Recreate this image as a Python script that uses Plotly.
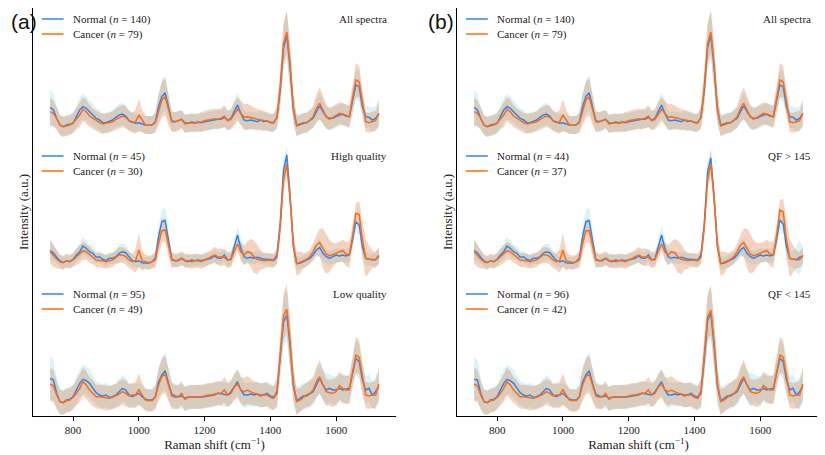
import plotly.graph_objects as go

# ---------------- data (intensity in a.u.) ----------------
wavenumber = list(range(730, 1731, 10))

all_normal = [20.7, 18, 9.7, 3, 1.3, 3, 3.7, 4.7, 11.3, 18,
              21.3, 19.7, 16.3, 13, 9.7, 8, 5.3, 5.3, 6.3, 8,
              10.7, 13, 14, 12, 7.3, 6.3, 4.7, 5.3, 4, 3,
              2.7, 3, 6.3, 21.3, 31.3, 35.3, 21.3, 7.3, 6.3, 7.3,
              8.7, 5.3, 4.7, 6, 5.3, 6, 5.3, 6.3, 7, 7.3,
              8, 8.7, 8.7, 10.7, 8, 9.7, 16.3, 23, 14.7, 8,
              7.3, 8, 7.3, 6.3, 8, 6.3, 7.3, 5.3, 5.3, 10.7,
              38, 80, 93, 60, 18, 3, 4, 5.3, 5.3, 7.3,
              9.7, 16.3, 22, 16.3, 11.3, 9.7, 9.7, 11.3, 13, 13.7,
              12, 11.3, 28, 43, 41.3, 21.3, 11.3, 10.7, 8, 9.7,
              14.7]
all_cancer = [16.3, 14.7, 9.7, 3, 1.3, 2, 3, 5.3, 9.7, 13,
              18.7, 16.3, 12, 9.7, 7.3, 5.3, 4, 4.7, 5.3, 6.3,
              8.7, 10.7, 12, 10.7, 7.3, 5.3, 6.3, 13, 7.3, 3,
              2.7, 3, 5.3, 18, 28, 31.3, 18, 6.3, 6, 7.3,
              8.7, 4, 4.7, 5.3, 4.7, 5.3, 6, 7.3, 8, 8.7,
              9.3, 8.7, 9.7, 12, 7.3, 8.7, 14, 18.7, 14.7, 10.7,
              11.3, 10.7, 9.7, 8.7, 8, 7.3, 6.3, 5.3, 5.3, 10.7,
              40, 84, 96, 64, 20, 2, 3, 4.7, 5.3, 8,
              11.3, 19.7, 24.7, 18, 11.3, 8.7, 10.7, 13, 14.7, 14,
              13, 11.3, 29.7, 48, 46.3, 24.7, 6.3, 5.3, 6.3, 7.3,
              14.7]
high_normal = [17.3, 15.3, 10.7, 7.3, 5.3, 7.3, 6.3, 8.7, 13, 16.3,
               22, 19.7, 16.3, 14.7, 10.7, 11.3, 8.7, 7.3, 9.7, 9.7,
               11.3, 14.7, 16.3, 15.3, 11.3, 7.3, 6.3, 7.3, 5.3, 5.3,
               4.7, 6.3, 9.7, 31.3, 46.3, 47.3, 28, 8.7, 7.3, 7.3,
               9.7, 7.3, 6.3, 8, 7.3, 8, 7.3, 8, 8.7, 9.7,
               12, 9.7, 9.7, 13, 8, 8.7, 21.3, 33, 19.7, 11.3,
               9.7, 10.7, 9.7, 10.7, 9.7, 8.7, 8.7, 8, 8, 13,
               45, 98, 113, 72, 22, 4.7, 4.7, 6.3, 8, 9.7,
               13, 18, 20.7, 14.7, 11.3, 9.7, 11.3, 13, 12, 13,
               12, 13, 28, 46.3, 43, 21.3, 9.7, 8.7, 8, 8.7,
               11.3]
high_cancer = [16.3, 12, 8.7, 6.3, 5.3, 7.3, 6.3, 8, 11.3, 14,
               17.3, 16.3, 13, 10.7, 8, 8, 7.3, 6.3, 7.3, 8,
               10.7, 13, 13, 11.3, 8, 6.3, 7.3, 18, 7.3, 6.3,
               5.3, 6.3, 8, 24.7, 37.3, 38, 21.3, 8, 7.3, 8,
               9.7, 7.3, 7.3, 6.3, 7.3, 7.3, 6.3, 8, 9.7, 11.3,
               13, 11.3, 10.7, 10.7, 8, 8.7, 16.3, 24, 16.3, 13,
               16.3, 15.3, 11.3, 8.7, 8, 7.3, 8, 7.3, 7.3, 10.7,
               40, 88, 104, 70, 22, 4, 5.3, 7.3, 8.7, 11.3,
               16.3, 23, 25.3, 19.7, 14, 12, 13, 14.7, 16.3, 17.3,
               14, 13, 31.3, 54.7, 54, 28, 9.7, 8.7, 8.7, 8,
               13]
low_normal = [29.7, 28, 14.7, 6.3, 5.3, 8, 8.7, 11.3, 18, 24.7,
              28.7, 27.3, 24.7, 19.7, 15.3, 13, 12, 13, 10.7, 11.3,
              13, 16.3, 19.7, 18, 13, 11.3, 13, 14.7, 11.3, 8.7,
              8, 8, 11.3, 26.3, 33, 37.3, 24.7, 14, 12, 11.3,
              12, 9.7, 10.7, 11.3, 10.7, 11.3, 10.7, 11.3, 12, 12.7,
              13, 14.7, 14, 13, 13, 16.3, 22, 26.3, 18, 13,
              13, 14, 13, 14, 12, 13, 14.7, 12, 10.7, 16.3,
              48, 86, 93, 62, 22, 7.3, 9.7, 12, 12, 14,
              16.3, 23, 29.7, 23, 18, 19.7, 18, 18, 19.7, 18,
              18.7, 19.7, 34.7, 49.7, 46.3, 28, 18, 19.7, 13, 16.3,
              22]
low_cancer = [24, 22, 13, 6.3, 5.3, 7.3, 8, 10.7, 14.7, 19.7,
              26.3, 23, 18, 14.7, 11.3, 11.3, 10.7, 9.7, 9.7, 10.7,
              12, 14, 16.3, 14.7, 12, 13, 13, 18.7, 13, 8,
              7.3, 7.3, 10.7, 23, 31.3, 34, 23, 12, 10.7, 11.3,
              14.7, 8.7, 10.7, 10.7, 11.3, 10.7, 11.3, 12, 13, 13,
              14, 14.7, 14.7, 18, 13, 14.7, 20.7, 24, 18, 16.3,
              18, 16.3, 14.7, 14, 13, 13, 13, 10.7, 9.7, 14.7,
              52, 92, 98.7, 66, 24, 6.3, 8, 10.7, 13, 14.7,
              18, 26.3, 31.3, 23, 16.3, 15.3, 14.7, 16.3, 22.3, 19.7,
              18, 18, 37.7, 53, 50.7, 29.7, 13, 12, 13, 13,
              24]
qf_high_normal = [17.3, 15.3, 10.7, 7.3, 5.3, 7.3, 6.3, 8.7, 13, 16.3,
                  22, 19.7, 16.3, 14.7, 10.7, 11.3, 8.7, 7.3, 9.7, 9.7,
                  11.3, 14.7, 16.3, 15.3, 11.3, 7.3, 6.3, 7.3, 5.3, 5.3,
                  4.7, 6.3, 9.7, 31.3, 46.3, 47.3, 28, 8.7, 7.3, 7.3,
                  9.7, 7.3, 6.3, 8, 7.3, 8, 7.3, 8, 8.7, 9.7,
                  12, 9.7, 9.7, 13, 8, 8.7, 21.3, 33, 19.7, 11.3,
                  9.7, 10.7, 9.7, 10.7, 9.7, 8.7, 8.7, 8, 8, 13,
                  44, 96, 110, 70, 22, 4.7, 4.7, 6.3, 8, 9.7,
                  13, 18, 20.7, 14.7, 11.3, 9.7, 11.3, 13, 12, 13,
                  12, 13, 28, 48, 44, 21.3, 9.7, 8.7, 8, 10.7,
                  11.3]
qf_high_cancer = [16.3, 12, 8.7, 6.3, 5.3, 7.3, 6.3, 8, 11.3, 14,
                  17.3, 16.3, 13, 10.7, 8, 8, 7.3, 6.3, 7.3, 8,
                  10.7, 13, 13, 11.3, 8, 6.3, 7.3, 18, 7.3, 6.3,
                  5.3, 6.3, 8, 24.7, 37.3, 37.3, 21.3, 8, 7.3, 8,
                  9.7, 7.3, 7.3, 6.3, 7.3, 7.3, 6.3, 8, 9.7, 11.3,
                  13, 11.3, 10.7, 10.7, 8, 8.7, 16.3, 24, 16.3, 13,
                  16.3, 15.3, 11.3, 8.7, 8, 7.3, 8, 7.3, 7.3, 10.7,
                  40, 88, 105, 70, 22, 4, 5.3, 7.3, 8.7, 11.3,
                  16.3, 23, 25.3, 19.7, 14, 12, 13, 14.7, 16.3, 17.3,
                  14, 13, 32, 58, 56, 28, 9.7, 8.7, 8.7, 8,
                  13]
qf_low_normal = [28.7, 28, 14.7, 6.3, 5.3, 8, 8.7, 11.3, 18, 24.7,
                 28.7, 27.3, 24.7, 19.7, 15.3, 13, 12, 13, 10.7, 11.3,
                 13, 16.3, 19.7, 18, 13, 11.3, 13, 14.7, 11.3, 8.7,
                 8, 8, 11.3, 26.3, 33, 37.3, 24.7, 14, 12, 11.3,
                 12, 9.7, 10.7, 11.3, 10.7, 11.3, 10.7, 11.3, 12, 12.7,
                 13, 14.7, 14, 13, 13, 16.3, 22, 26.3, 18, 13,
                 13, 14, 13, 14, 12, 13, 14.7, 12, 10.7, 16.3,
                 48, 87, 94.7, 62, 22, 7.3, 9.7, 12, 12, 14,
                 16.3, 23, 29.7, 23, 18, 19.7, 18, 18, 19.7, 18,
                 18.7, 19.7, 34.7, 49.7, 46.3, 28, 18, 19.7, 13, 16.3,
                 22]
qf_low_cancer = [24, 22, 13, 6.3, 5.3, 7.3, 8, 10.7, 14.7, 19.7,
                 26.3, 23, 18, 14.7, 11.3, 11.3, 10.7, 9.7, 9.7, 10.7,
                 12, 14, 16.3, 14.7, 12, 13, 13, 18.7, 13, 8,
                 7.3, 7.3, 10.7, 23, 31.3, 34, 23, 12, 10.7, 11.3,
                 14.7, 8.7, 10.7, 10.7, 11.3, 10.7, 11.3, 12, 13, 13,
                 14, 14.7, 14.7, 18, 13, 14.7, 20.7, 24, 18, 16.3,
                 18, 16.3, 14.7, 14, 13, 13, 13, 10.7, 9.7, 14.7,
                 52, 91, 98, 66, 24, 6.3, 8, 10.7, 13, 14.7,
                 18, 26.3, 31.3, 23, 16.3, 15.3, 14.7, 16.3, 22.3, 19.7,
                 18, 18, 37.7, 53, 50.7, 29.7, 13, 12, 13, 13,
                 24]

# standard deviations (half-width of shaded bands)
sd_all_normal = [18, 16, 12, 10, 10, 10, 10, 10, 11, 12, 13, 12, 11, 11, 10, 10, 10, 10,
                 10, 10, 10, 11, 11, 11, 10, 10, 9, 9, 9, 9, 9, 9, 10, 14, 17, 18, 15, 10,
                 9, 9, 9, 9, 9, 9, 9, 9, 9, 9, 9, 9, 9, 9, 9, 10, 9, 9, 11, 13, 11, 9,
                 9, 9, 9, 9, 9, 9, 9, 9, 9, 11, 18, 22, 24, 22, 15, 11, 10, 10, 10, 10,
                 10, 11, 13, 12, 11, 11, 11, 11, 11, 11, 11, 11, 13, 15, 15, 12, 11, 11, 12, 12,
                 14]
sd_all_cancer = [14, 13, 11, 10, 10, 10, 10, 10, 11, 12, 12, 12, 11, 10, 10, 10, 10, 10,
                 10, 10, 11, 11, 11, 11, 10, 10, 12, 16, 11, 9, 9, 9, 10, 15, 18, 19, 15, 10,
                 10, 10, 9, 9, 9, 9, 9, 9, 10, 10, 10, 10, 10, 10, 10, 11, 10, 10, 12, 12, 12, 13,
                 13, 12, 11, 10, 10, 10, 9, 9, 9, 11, 18, 21, 22, 20, 14, 10, 10, 10, 10, 10,
                 11, 14, 16, 14, 12, 11, 11, 11, 11, 11, 11, 11, 13, 17, 16, 12, 10, 10, 10, 10,
                 12]
sd_high_normal = [10, 8, 7, 6, 6, 6, 6, 6, 7, 8, 9, 8, 7, 7, 6, 6, 6, 6,
                  6, 6, 7, 8, 8, 8, 7, 6, 6, 6, 6, 6, 6, 6, 7, 10, 12, 13, 10, 7,
                  6, 6, 6, 6, 6, 6, 6, 6, 6, 6, 6, 6, 6, 7, 6, 6, 7, 6, 6, 8, 10, 8,
                  6, 6, 6, 6, 6, 6, 6, 6, 6, 8, 12, 10, 9, 10, 10, 7, 6, 6, 6, 6,
                  7, 8, 9, 8, 7, 7, 7, 7, 7, 7, 7, 7, 9, 10, 10, 8, 7, 6, 6, 7,
                  9]
sd_high_cancer = [12, 11, 9, 7, 7, 7, 7, 7, 8, 9, 9, 8, 8, 7, 7, 7, 7, 7,
                  7, 7, 7, 8, 8, 8, 8, 8, 12, 17, 10, 7, 7, 7, 8, 11, 12, 12, 10, 8,
                  7, 7, 7, 7, 7, 7, 7, 7, 7, 7, 7, 7, 8, 8, 9, 8, 8, 8, 7, 7, 9, 10,
                  10, 14, 16, 15, 10, 8, 7, 7, 7, 7, 7, 9, 13, 12, 11, 12, 11, 8, 7, 7,
                  8, 10, 14, 20, 20, 16, 12, 10, 10, 11, 12, 13, 11, 10, 13, 19, 19, 14, 9, 8,
                  8]
sd_qf_high_normal = [10, 8, 7, 6, 6, 6, 6, 6, 7, 8, 9, 8, 7, 7, 6, 6, 6, 6,
                     6, 6, 7, 8, 8, 8, 7, 6, 6, 6, 6, 6, 6, 6, 7, 10, 12, 13, 10, 7,
                     6, 6, 6, 6, 6, 6, 6, 6, 6, 6, 6, 6, 6, 7, 6, 6, 7, 6, 6, 8, 10, 8,
                     6, 6, 6, 6, 6, 6, 6, 6, 6, 8, 12, 10, 9, 10, 10, 7, 6, 6, 6, 6,
                     7, 8, 9, 8, 7, 7, 7, 7, 7, 7, 7, 7, 9, 10, 11, 10, 8, 8, 13, 17,
                     10]
sd_low_normal = [22, 20, 16, 13, 12, 12, 12, 12, 13, 14, 15, 14, 14, 13, 12, 12, 12, 12,
                 12, 12, 12, 13, 13, 13, 12, 12, 11, 11, 11, 11, 11, 11, 12, 15, 17, 18, 16, 13,
                 12, 12, 12, 12, 12, 12, 12, 12, 12, 12, 12, 12, 12, 12, 12, 12, 12, 12, 12, 13, 15, 13,
                 12, 12, 12, 12, 12, 12, 12, 12, 12, 14, 20, 24, 26, 24, 18, 14, 13, 13, 13, 13,
                 13, 14, 15, 15, 17, 14, 14, 14, 14, 14, 14, 14, 15, 17, 17, 15, 14, 14, 14, 15,
                 17]
sd_low_cancer = [17, 16, 14, 12, 12, 12, 12, 12, 13, 14, 14, 14, 13, 13, 12, 12, 12, 12,
                 12, 12, 12, 13, 13, 13, 12, 12, 13, 16, 12, 11, 11, 11, 12, 16, 18, 19, 16, 13,
                 12, 12, 12, 12, 12, 12, 12, 12, 12, 12, 12, 12, 12, 12, 12, 13, 12, 12, 13, 14, 13, 14,
                 14, 13, 12, 12, 12, 12, 12, 12, 12, 14, 20, 23, 25, 23, 17, 13, 12, 12, 12, 13,
                 13, 15, 17, 15, 13, 13, 14, 14, 14, 14, 14, 14, 15, 18, 17, 15, 13, 13, 13, 14,
                 15]

panel_letters = ["(a)", "(b)"]
group_titles = [["All spectra", "High quality", "Low quality"],
                ["All spectra", "QF &gt; 145", "QF &lt; 145"]]
n_normal = [[140, 45, 95], [140, 44, 96]]
n_cancer = [[79, 30, 49], [79, 37, 42]]
means_normal = [[all_normal, high_normal, low_normal], [all_normal, qf_high_normal, qf_low_normal]]
means_cancer = [[all_cancer, high_cancer, low_cancer], [all_cancer, qf_high_cancer, qf_low_cancer]]
sds_normal = [[sd_all_normal, sd_high_normal, sd_low_normal],
              [sd_all_normal, sd_qf_high_normal, sd_low_normal]]
sds_cancer = [[sd_all_cancer, sd_high_cancer, sd_low_cancer],
              [sd_all_cancer, sd_high_cancer, sd_low_cancer]]
group_offsets = [280, 140, 0]
x_ticks = [800, 1000, 1200, 1400, 1600]

# ---------------- style ----------------
BLUE = "#2f84f5"
ORANGE = "#ff6a12"
BLUE_BAND = "rgba(60,200,232,0.20)"
ORANGE_BAND = "rgba(222,122,62,0.32)"
SERIF = "Liberation Serif"
SANS = "Liberation Sans"
TXT = "#222"

# page has an 8px body margin: figure coordinates = screen coordinates - 8
W, H = 817, 447
ML, MR, MT, MB = 25, 5, 0, 39
PW = W - ML - MR          # 787
PH = H - MT - MB          # 408
dom = [[0.0, 0.4612], [0.5388, 1.0]]


def px_x(sx):
    return (sx - 8 - ML) / PW


def px_y(sy):
    return 1 - (sy - 8 - MT) / PH


fig = go.Figure()
annotations = []
shapes = []

for p in range(2):
    xa = "x" if p == 0 else "x2"
    ya = "y" if p == 0 else "y2"
    spine_x = [33, 457.3][p]
    for g in range(3):
        off = group_offsets[g]
        mn, mc = means_normal[p][g], means_cancer[p][g]
        sn, sc = sds_normal[p][g], sds_cancer[p][g]
        for m, s, col in ((mn, sn, BLUE_BAND), (mc, sc, ORANGE_BAND)):
            upper = [off + a + b for a, b in zip(m, s)]
            lower = [off + a - b for a, b in zip(m, s)]
            fig.add_trace(go.Scatter(x=wavenumber + wavenumber[::-1], y=upper + lower[::-1],
                                     fill="toself", fillcolor=col, line=dict(width=0),
                                     mode="lines", hoverinfo="skip", showlegend=False,
                                     xaxis=xa, yaxis=ya))
        for m, col, lab, n, row in ((mn, BLUE, "Normal", n_normal[p][g], 0),
                                    (mc, ORANGE, "Cancer", n_cancer[p][g], 1)):
            fig.add_trace(go.Scatter(x=wavenumber, y=[off + v for v in m], mode="lines",
                                     line=dict(color=col, width=1.5),
                                     name=f"{lab} (n = {n})", showlegend=False,
                                     xaxis=xa, yaxis=ya))
            sy = [19, 156, 294][g] + row * 15
            shapes.append(dict(type="line", xref="paper", yref="paper",
                               x0=px_x(spine_x + 8.7), x1=px_x(spine_x + 30.5),
                               y0=px_y(sy), y1=px_y(sy),
                               line=dict(color=col, width=1.5)))
            annotations.append(dict(text=f"{lab} (<i>n</i> = {n})", xref="paper", yref="paper",
                                    x=px_x(spine_x + 37.5), y=px_y(sy), xanchor="left",
                                    yanchor="middle", showarrow=False,
                                    font=dict(family=SERIF, size=11, color=TXT)))
        annotations.append(dict(
            text=group_titles[p][g], xref="paper", yref="paper",
            x=px_x(spine_x + 355.5), y=px_y([19, 156, 294][g]),
            xanchor="right", yanchor="middle", showarrow=False,
            font=dict(family=SERIF, size=11, color=TXT)))
    annotations.append(dict(
        text=panel_letters[p], xref="paper", yref="paper",
        x=px_x([9, 426][p]), y=px_y(8), xanchor="left", yanchor="top",
        showarrow=False, font=dict(family=SANS, size=21, color="#111")))

axis_common = dict(range=[678, 1782], showline=True, linecolor="black", linewidth=1.3,
                   ticks="outside", ticklen=3.5, tickcolor="black", tickvals=x_ticks,
                   showgrid=False, zeroline=False,
                   tickfont=dict(family=SERIF, size=11, color=TXT),
                   title=dict(text="Raman shift (cm<sup>−1</sup>)", standoff=3,
                              font=dict(family=SERIF, size=13, color=TXT)))
yaxis_common = dict(range=[-8, 400], showline=True, linecolor="black", linewidth=1.3,
                    showticklabels=False, ticks="", showgrid=False, zeroline=False,
                    title=dict(text="Intensity (a.u.)", standoff=0,
                               font=dict(family=SERIF, size=13, color=TXT)))

fig.update_layout(
    width=W, height=H,
    margin=dict(l=ML, r=MR, t=MT, b=MB),
    paper_bgcolor="white", plot_bgcolor="white",
    showlegend=False,
    xaxis=dict(domain=dom[0], anchor="y", **axis_common),
    xaxis2=dict(domain=dom[1], anchor="y2", **axis_common),
    yaxis=dict(domain=[0, 1], anchor="x", **yaxis_common),
    yaxis2=dict(domain=[0, 1], anchor="x2", **yaxis_common),
    annotations=annotations,
    shapes=shapes,
)

fig.write_html("out.html")
